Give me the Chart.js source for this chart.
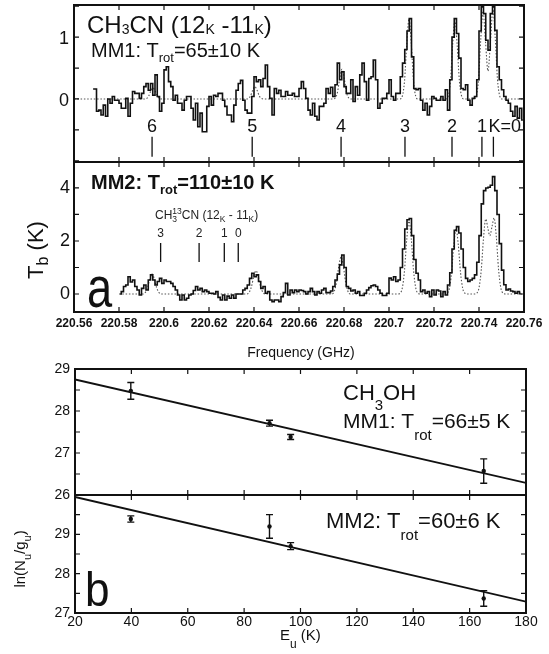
<!DOCTYPE html>
<html><head><meta charset="utf-8">
<script src="https://cdn.jsdelivr.net/npm/chart.js@4"></script>
<style>
html,body{margin:0;padding:0;background:#fff;}
#wrap{position:relative;width:549px;height:654px;overflow:hidden;background:#fff;}
canvas{position:absolute;left:0;}
</style></head><body>
<div id="wrap">
<canvas id="a1" width="549" height="170" style="top:0px"></canvas>
<canvas id="a2" width="549" height="215" style="top:150px"></canvas>
<canvas id="b1" width="549" height="155" style="top:350px"></canvas>
<canvas id="b2" width="549" height="174" style="top:480px"></canvas>
</div>
<script>
const FONT = '"Liberation Sans", Arial, Helvetica, sans-serif';
const INK = '#111';

// ---------------- panel a : CH3CN spectra ----------------
const freqTicks = [220.56, 220.58, 220.6, 220.62, 220.64, 220.66, 220.68, 220.7, 220.72, 220.74, 220.76];
const chanWidth = 0.001;
const mm1Start = 220.568;
const mm1Tb = [
 0.16,0.16,-0.2,-0.18,-0.26,-0.1,-0.28,0,-0.07,0.04,
 -0.02,-0.02,-0.07,-0.15,-0.15,0.01,-0.28,-0.07,0.12,0.09,
 0.09,0.01,0.09,0.2,0.25,0.14,0.25,0.06,0.39,0.04,
 -0.2,-0.07,0.47,0.52,0.28,0.2,-0.02,0.06,-0.07,-0.07,
 -0.18,-0.02,0.04,0.04,-0.15,-0.34,-0.07,-0.45,-0.23,-0.53,
 -0.53,-0.12,0.04,-0.1,0.06,0.04,0.09,0.09,-0.02,-0.12,
 -0.26,-0.26,-0.37,-0.1,0.14,0.25,0.3,-0.02,-0.18,-0.23,
 -0.23,0.04,0.36,0.28,0.31,0.2,0.33,0.55,0.2,0.01,
 -0.26,0.17,0.09,0.14,0.04,0.04,0.12,0.06,0.06,0.09,
 0.04,0.04,0.17,0.28,0.17,0.01,-0.18,-0.26,-0.07,-0.28,
 -0.34,-0.12,-0.12,-0.07,0.17,0.09,0.19,0.04,0.23,0.58,
 0.31,0.44,0.2,0.09,0.09,0.31,-0.04,0.2,0.06,0.39,
 0.58,0.28,-0.02,0.33,0.36,0.63,0.31,-0.15,-0.07,0.01,
 0.01,0.09,0.31,0.04,-0.02,0.09,0.09,0.36,0.58,0.8,
 1.1,1.3,0.68,0.17,0.15,0.17,-0.02,-0.18,-0.07,-0.26,
 -0.12,0.04,0.01,-0.02,-0.02,0.04,-0.02,0.15,-0.18,0.31,
 1.0,1.3,1.06,0.66,0.17,0.15,0.23,-0.02,-0.1,0.01,
 0.04,0.31,1.1,1.49,1.38,0.95,0.79,1.38,1.49,1.11,
 0.52,0.31,0.15,0.04,-0.02,-0.07,-0.2,-0.28,-0.12,-0.31,
 -0.15,-0.34
];
const mm1ModelFreq = [
 220.56,
 220.5911,220.5921,220.5931,220.5941,220.5951,220.5961,220.5971,220.5981,220.5991,
 220.6364,220.6374,220.6384,220.6394,220.6404,220.6414,220.6424,220.6434,220.6444,
 220.6751,220.6761,220.6771,220.6781,220.6791,220.6801,220.6811,220.6821,220.6831,
 220.7049,220.7059,220.7069,220.7079,220.7089,220.7099,220.7109,220.7119,220.7129,
 220.7253,220.7263,220.7273,220.7283,220.7293,220.7303,220.7313,220.7323,220.7333,
 220.7378,220.7388,220.7398,220.7408,220.7418,220.7429,220.7440,220.7451,220.7462,220.7472,220.7482,220.7492,220.7502,
 220.76
];
const mm1ModelTb = [
 0,
 0,0.006,0.04,0.124,0.18,0.124,0.04,0.006,0,
 0,0.007,0.045,0.138,0.2,0.138,0.045,0.007,0,
 0,0.016,0.108,0.33,0.48,0.33,0.108,0.016,0,
 0,0.044,0.291,0.894,1.3,0.894,0.291,0.044,0,
 0,0.043,0.284,0.874,1.27,0.874,0.284,0.043,0,
 0,0.048,0.318,0.977,1.42,0.918,0.452,0.935,1.45,0.998,0.325,0.049,0,
 0
];
const mm2Start = 220.580;
const mm2Tb = [
 0,0.09,0.28,0.34,0.65,0.45,0.53,0.28,0.15,-0.04,
 0.21,0.34,0.15,0.53,0.72,0.53,0.34,0.47,0.59,0.4,
 0.53,0.47,0.47,0.4,0.28,0.15,-0.04,-0.23,-0.04,-0.23,
 -0.16,-0.04,0,0.13,0.28,0.15,0.21,0.09,0.15,0.09,
 0.03,0.03,0,0.09,-0.13,-0.23,-0.04,-0.23,-0.08,-0.16,
 -0.04,-0.16,0,0,0,0.15,0.21,0.34,0.59,0.78,
 0.65,0.72,0.47,0.21,0.28,0.03,0.09,-0.23,-0.29,-0.23,
 -0.23,-0.29,-0.1,0.05,0.4,-0.04,0.15,0.05,0.15,0.09,
 0.15,0.13,0.09,0,0.09,0.21,0.09,-0.04,0.09,0.03,
 0.15,0.21,0.05,0.05,0.11,0.28,0.53,0.75,1.1,1.47,
 1.0,0.28,0.21,0.11,0.15,0.03,0.09,-0.06,-0.06,0.03,
 0.15,0.24,0.31,0.34,0.28,0.15,0.03,-0.06,-0.06,0.03,
 0.6,0.53,0.65,0.47,0.53,1.0,1.7,2.45,2.8,2.85,
 2.2,1.3,0.78,0.53,0.09,0.15,0.03,0.09,-0.1,0.15,
 -0.04,0.15,0.11,-0.1,0.09,-0.04,0.34,0.8,1.7,2.4,
 2.54,2.3,1.7,1.0,0.59,0.47,0.53,0.59,0.72,1.2,
 2.2,3.4,3.9,4.0,4.03,4.1,4.43,3.9,3.0,1.9,
 0.9,0.35,0.15,0.19,0.11,0.09,0.03,0.09,0.03
];
const mm2ModelFreq = [
 220.58,
 220.5907,220.5917,220.5927,220.5937,220.5947,220.5957,220.5967,220.5977,220.5987,
 220.6369,220.6379,220.6389,220.6399,220.6409,220.6419,220.6429,220.6439,220.6449,
 220.6747,220.6757,220.6767,220.6777,220.6787,220.6797,220.6807,220.6817,220.6827,
 220.7039,220.7049,220.7059,220.7069,220.7079,220.7089,220.7099,220.7109,220.7119,220.7129,220.7139,
 220.7248,220.7258,220.7268,220.7278,220.7288,220.7298,220.7308,220.7318,220.7328,220.7338,220.7348,
 220.7380,220.7390,220.7400,220.7410,220.7420,220.7430,220.7439,220.7448,220.7458,220.7467,220.7477,220.7487,220.7497,220.7507,220.7517,
 220.76
];
const mm2ModelTb = [
 0,
 0,0.06,0.244,0.566,0.75,0.566,0.244,0.06,0,
 0,0.07,0.286,0.664,0.88,0.664,0.286,0.07,0,
 0,0.112,0.455,1.057,1.4,1.057,0.455,0.112,0,
 0,0.03,0.22,0.894,2.076,2.75,2.076,0.894,0.22,0.03,0,
 0,0.027,0.196,0.796,1.85,2.45,1.85,0.796,0.196,0.027,0,
 0,0.03,0.23,0.9,2.1,2.83,2.5,2.2,2.55,2.87,2.15,0.92,0.23,0.03,0,
 0
];
const kLabels = ['6','5','4','3','2','1','K=0'];
const kFreqs = [220.5947, 220.6392, 220.6787, 220.7071, 220.728, 220.7413, 220.7464];
const k13Labels = ['3','2','1','0'];
const k13Freqs = [220.5985, 220.6156, 220.6268, 220.6330];
const a1YTicks = [-1, -0.5, 0, 0.5, 1, 1.5];
const a1YLabels = [0, 1];
const a2YTicks = [0, 1, 2, 3, 4];
const a2YLabels = [0, 2, 4];

// ---------------- panel b : CH3OH rotation diagrams ----------------
const euTicks = [20, 40, 60, 80, 100, 120, 140, 160, 180];
const eu = [39.8, 89, 96.5, 165];
const mm1Ln = [28.48, 27.71, 27.38, 26.57];
const mm1Err = [0.2, 0.07, 0.06, 0.29];
const mm2Ln = [29.39, 29.2, 28.7, 27.37];
const mm2Err = [0.08, 0.3, 0.09, 0.2];
const fitE = [20, 180];
const mm1Fit = [28.75, 26.29];
const mm2Fit = [29.95, 27.29];
const b1YTicks = [26.5, 27, 27.5, 28, 28.5];
const b1YLabels = [26, 27, 28, 29];
const b2YTicks = [27.5, 28, 28.5, 29, 29.5];
const b2YLabels = [27, 28, 29];

// ---------------- helpers ----------------
function noPad(ax){ ax.paddingTop = 0; ax.paddingBottom = 0; ax.paddingLeft = 0; ax.paddingRight = 0; }
function yAxis(min, max, labels, width, font, pad, off) {
  return {
    type: 'linear', min, max, position: 'left',
    afterBuildTicks: ax => { ax.ticks = labels.map(v => ({value: v})); },
    afterFit: ax => { ax.width = width; noPad(ax); },
    ticks: { padding: pad, color: INK, font, labelOffset: off || 0, callback: v => String(v) },
    grid: { display: false, drawTicks: false }, border: { display: false }
  };
}
function xAxis(min, max, labels, height, font, pad) {
  return {
    type: 'linear', min, max, position: 'bottom', display: !!labels,
    afterBuildTicks: ax => { ax.ticks = (labels || []).map(v => ({value: v})); },
    afterFit: ax => { if (labels) ax.height = height; noPad(ax); },
    ticks: { padding: pad, color: INK, font, autoSkip: false, minRotation: 0, maxRotation: 0, callback: v => String(v) },
    grid: { display: false, drawTicks: false }, border: { display: false }
  };
}
function framePlugin(xt, yt, len) {
  return { id: 'frame', afterDatasetsDraw(chart) {
    const {ctx, chartArea: a} = chart; const sx = chart.scales.x, sy = chart.scales.y;
    ctx.save(); ctx.strokeStyle = INK; ctx.lineWidth = 1.2; ctx.beginPath();
    for (const v of xt) { const p = sx.getPixelForValue(v); ctx.moveTo(p, a.top); ctx.lineTo(p, a.top + len); ctx.moveTo(p, a.bottom); ctx.lineTo(p, a.bottom - len); }
    for (const v of yt) { const p = sy.getPixelForValue(v); ctx.moveTo(a.left, p); ctx.lineTo(a.left + len, p); ctx.moveTo(a.right, p); ctx.lineTo(a.right - len, p); }
    ctx.stroke();
    ctx.lineWidth = 2; ctx.strokeRect(a.left, a.top, a.right - a.left, a.bottom - a.top);
    ctx.restore();
  }};
}
function rich(ctx, x, y, parts, o) {
  const wt = o.weight || 'normal';
  const big = `${wt} ${o.size}px ${FONT}`, small = `${wt} ${o.subSize}px ${FONT}`;
  const widths = parts.map(p => {
    if (p.t !== undefined) { ctx.font = big; return ctx.measureText(p.t).width; }
    ctx.font = small;
    return Math.max(p.s ? ctx.measureText(p.s).width : 0, p.u ? ctx.measureText(p.u).width : 0);
  });
  const total = widths.reduce((a, b) => a + b, 0);
  let cx = o.align === 'center' ? x - total / 2 : x;
  ctx.textAlign = 'left'; ctx.textBaseline = 'alphabetic'; ctx.fillStyle = o.color || INK;
  parts.forEach((p, i) => {
    if (p.t !== undefined) { ctx.font = big; ctx.fillText(p.t, cx, y); }
    else { ctx.font = small; if (p.s) ctx.fillText(p.s, cx, y + o.subDy); if (p.u) ctx.fillText(p.u, cx, y + o.supDy); }
    cx += widths[i];
  });
}
function bigLetter(ctx, ch, x, y, size, sx) {
  ctx.save(); ctx.translate(x, y); ctx.scale(sx, 1);
  ctx.font = `${size}px ${FONT}`; ctx.fillStyle = INK; ctx.textAlign = 'left'; ctx.textBaseline = 'alphabetic';
  ctx.fillText(ch, 0, 0); ctx.restore();
}
const pts = (xs, ys) => ys.map((v, i) => ({x: xs[i], y: v}));
const chanPts = (start, vals) => vals.map((v, i) => ({x: start + (i + 0.5) * chanWidth, y: v}));
const baseOpts = { responsive: false, animation: false, devicePixelRatio: 1, events: [],
  plugins: { legend: { display: false }, tooltip: { enabled: false } } };

// ---------------- chart a1 ----------------
new Chart(document.getElementById('a1'), {
  type: 'line',
  data: { datasets: [
    { data: chanPts(mm1Start, mm1Tb), borderColor: INK, borderWidth: 1.6, pointRadius: 0, stepped: 'middle', order: 0 },
    { data: pts(mm1ModelFreq, mm1ModelTb), borderColor: '#555', borderWidth: 1.1, borderDash: [1.5, 1.8], pointRadius: 0, cubicInterpolationMode: 'monotone', order: 1 }
  ]},
  options: Object.assign({}, baseOpts, {
    layout: { autoPadding: false, padding: { top: 5, bottom: 8, left: 0, right: 25 } },
    scales: {
      x: xAxis(220.56, 220.76, null, 0, {}, 0),
      y: yAxis(-1.02, 1.52, a1YLabels, 74, { family: FONT, size: 18 }, 5, 2)
    }
  }),
  plugins: [framePlugin(freqTicks, a1YTicks, 5), { id: 'txtA1', afterDraw(chart) {
    const ctx = chart.ctx, sx = chart.scales.x, sy = chart.scales.y;
    ctx.save();
    rich(ctx, 87, 33, [{t:'CH'},{s:'3'},{t:'CN (12'},{s:'K'},{t:' -11'},{s:'K'},{t:')'}], { size: 24, subSize: 14, subDy: 1 });
    rich(ctx, 91, 57, [{t:'MM1: T'},{s:'rot'},{t:'=65±10 K'}], { size: 20, subSize: 13, subDy: 5 });
    ctx.strokeStyle = INK; ctx.lineWidth = 1.3; ctx.beginPath();
    kFreqs.forEach((f, i) => {
      const px = sx.getPixelForValue(f);
      ctx.moveTo(px, sy.getPixelForValue(-0.61)); ctx.lineTo(px, sy.getPixelForValue(-0.935));
      ctx.font = `18px ${FONT}`; ctx.fillStyle = INK; ctx.textBaseline = 'alphabetic';
      if (kLabels[i].length > 1) { ctx.textAlign = 'left'; ctx.fillText(kLabels[i], px - 5, sy.getPixelForValue(-0.54)); }
      else { ctx.textAlign = 'center'; ctx.fillText(kLabels[i], px, sy.getPixelForValue(-0.54)); }
    });
    ctx.stroke(); ctx.restore();
  }}]
});

// ---------------- chart a2 ----------------
new Chart(document.getElementById('a2'), {
  type: 'line',
  data: { datasets: [
    { data: chanPts(mm2Start, mm2Tb), borderColor: INK, borderWidth: 1.6, pointRadius: 0, stepped: 'middle', order: 0 },
    { data: pts(mm2ModelFreq, mm2ModelTb), borderColor: '#555', borderWidth: 1.1, borderDash: [1.5, 1.8], pointRadius: 0, cubicInterpolationMode: 'monotone', order: 1 }
  ]},
  options: Object.assign({}, baseOpts, {
    layout: { autoPadding: false, padding: { top: 12, bottom: 0, left: 0, right: 25 } },
    scales: {
      x: xAxis(220.56, 220.76, freqTicks, 53, { family: FONT, size: 12, weight: 'bold' }, 4),
      y: yAxis(-0.68, 4.98, a2YLabels, 74, { family: FONT, size: 18 }, 4, 0)
    }
  }),
  plugins: [framePlugin(freqTicks, a2YTicks, 5), { id: 'txtA2', afterDraw(chart) {
    const ctx = chart.ctx, sx = chart.scales.x, sy = chart.scales.y, oy = 150;
    ctx.save();
    rich(ctx, 91, 189 - oy, [{t:'MM2: T'},{s:'rot'},{t:'=110±10 K'}], { size: 20, subSize: 13, subDy: 5, weight: 'bold' });
    rich(ctx, 155, 219 - oy, [{t:'CH'},{s:'3',u:'13'},{t:'CN (12'},{s:'K'},{t:' - 11'},{s:'K'},{t:')'}], { size: 12, subSize: 8.5, subDy: 3, supDy: -5, color: '#222' });
    ctx.strokeStyle = INK; ctx.lineWidth = 1.3; ctx.beginPath();
    k13Freqs.forEach((f, i) => {
      const px = sx.getPixelForValue(f);
      ctx.moveTo(px, sy.getPixelForValue(1.92)); ctx.lineTo(px, sy.getPixelForValue(1.21));
      ctx.font = `12px ${FONT}`; ctx.fillStyle = '#222'; ctx.textAlign = 'center'; ctx.textBaseline = 'alphabetic';
      ctx.fillText(k13Labels[i], px, sy.getPixelForValue(2.16));
    });
    ctx.stroke();
    bigLetter(ctx, 'a', 87, 307 - oy, 58, 0.78);
    ctx.save(); ctx.translate(43, 250 - oy); ctx.rotate(-Math.PI / 2);
    rich(ctx, 0, 0, [{t:'T'},{s:'b'},{t:' (K)'}], { size: 22, subSize: 16, subDy: 5, align: 'center' });
    ctx.restore();
    ctx.font = `14px ${FONT}`; ctx.fillStyle = INK; ctx.textAlign = 'center'; ctx.textBaseline = 'alphabetic';
    ctx.fillText('Frequency (GHz)', 301, 357 - oy);
    ctx.restore();
  }}]
});

// ---------------- chart b1 / b2 ----------------
function errPlugin(vals, errs) {
  return { id: 'err', afterDatasetsDraw(chart) {
    const ctx = chart.ctx, sx = chart.scales.x, sy = chart.scales.y;
    ctx.save(); ctx.strokeStyle = INK; ctx.lineWidth = 1.4; ctx.beginPath();
    eu.forEach((e, i) => {
      const px = sx.getPixelForValue(e), y1 = sy.getPixelForValue(vals[i] - errs[i]), y2 = sy.getPixelForValue(vals[i] + errs[i]);
      ctx.moveTo(px, y1); ctx.lineTo(px, y2);
      ctx.moveTo(px - 3.5, y1); ctx.lineTo(px + 3.5, y1);
      ctx.moveTo(px - 3.5, y2); ctx.lineTo(px + 3.5, y2);
    });
    ctx.stroke(); ctx.restore();
  }};
}
const numFont = { family: FONT, size: 14 };
new Chart(document.getElementById('b1'), {
  type: 'scatter',
  data: { datasets: [
    { data: pts(eu, mm1Ln), backgroundColor: INK, borderColor: INK, pointRadius: 2.2, pointBorderWidth: 0 },
    { type: 'line', data: pts(fitE, mm1Fit), borderColor: INK, borderWidth: 1.8, pointRadius: 0 }
  ]},
  options: Object.assign({}, baseOpts, {
    layout: { autoPadding: false, padding: { top: 19, bottom: 10, left: 0, right: 23 } },
    scales: {
      x: xAxis(20, 180, null, 0, {}, 0),
      y: yAxis(26, 29, b1YLabels, 75, numFont, 5, 0)
    }
  }),
  plugins: [framePlugin(euTicks, b1YTicks, 5), errPlugin(mm1Ln, mm1Err), { id: 'txtB1', afterDraw(chart) {
    const ctx = chart.ctx, oy = 350;
    ctx.save();
    rich(ctx, 343, 400 - oy, [{t:'CH'},{s:'3'},{t:'OH'}], { size: 22, subSize: 15, subDy: 10 });
    rich(ctx, 343, 428 - oy, [{t:'MM1: T'},{s:'rot'},{t:'=66±5 K'}], { size: 21, subSize: 15, subDy: 12 });
    ctx.restore();
  }}]
});
new Chart(document.getElementById('b2'), {
  type: 'scatter',
  data: { datasets: [
    { data: pts(eu, mm2Ln), backgroundColor: INK, borderColor: INK, pointRadius: 2.2, pointBorderWidth: 0 },
    { type: 'line', data: pts(fitE, mm2Fit), borderColor: INK, borderWidth: 1.8, pointRadius: 0 }
  ]},
  options: Object.assign({}, baseOpts, {
    layout: { autoPadding: false, padding: { top: 15, bottom: 0, left: 0, right: 23 } },
    scales: {
      x: xAxis(20, 180, euTicks, 41, numFont, 1),
      y: yAxis(27, 30, b2YLabels, 75, numFont, 5, 0)
    }
  }),
  plugins: [framePlugin(euTicks, b2YTicks, 5), errPlugin(mm2Ln, mm2Err), { id: 'txtB2', afterDraw(chart) {
    const ctx = chart.ctx, oy = 480;
    ctx.save();
    rich(ctx, 326, 528 - oy, [{t:'MM2: T'},{s:'rot'},{t:'=60±6 K'}], { size: 22, subSize: 15, subDy: 12 });
    bigLetter(ctx, 'b', 85, 606 - oy, 49, 0.9);
    ctx.save(); ctx.translate(25, 559 - oy); ctx.rotate(-Math.PI / 2);
    rich(ctx, 0, 0, [{t:'ln(N'},{s:'u'},{t:'/g'},{s:'u'},{t:')'}], { size: 15, subSize: 11, subDy: 6, align: 'center' });
    ctx.restore();
    rich(ctx, 280, 640 - oy, [{t:'E'},{s:'u'},{t:' (K)'}], { size: 15, subSize: 12, subDy: 8 });
    ctx.restore();
  }}]
});
</script>
</body></html>
